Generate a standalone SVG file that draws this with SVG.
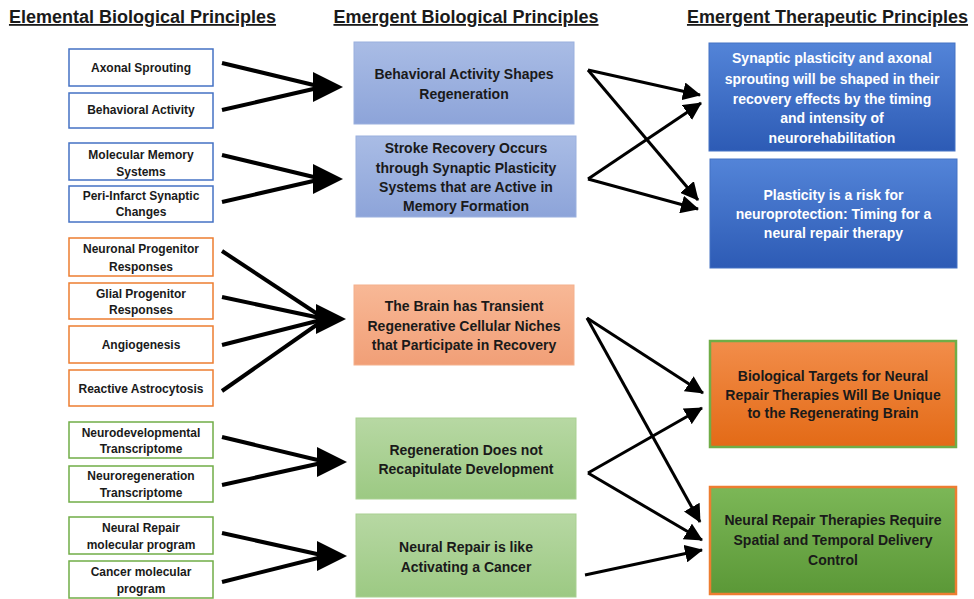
<svg xmlns="http://www.w3.org/2000/svg" width="974" height="599" viewBox="0 0 974 599">
<defs>
<style>
text{font-family:"Liberation Sans",Arial,sans-serif;font-weight:bold;fill:#1a1a1a;text-anchor:middle}
.hdr{font-size:18px;text-decoration:underline}
.sm{font-size:12px}
.md{font-size:14px}
.wt{fill:#ffffff}
.lb{fill:#ffffff;stroke:#4472C4;stroke-width:1.5}
.lo{fill:#ffffff;stroke:#ED7D31;stroke-width:1.5}
.lg{fill:#ffffff;stroke:#70AD47;stroke-width:1.5}
.big{stroke:#000;stroke-width:4;fill:none}
.thin{stroke:#000;stroke-width:3;fill:none;marker-end:url(#ah)}
</style>
<linearGradient id="gMB" x1="0" y1="0" x2="0" y2="1"><stop offset="0" stop-color="#A9BCE5"/><stop offset="1" stop-color="#8DA4D9"/></linearGradient>
<linearGradient id="gMO" x1="0" y1="0" x2="0" y2="1"><stop offset="0" stop-color="#F8B896"/><stop offset="1" stop-color="#F19F77"/></linearGradient>
<linearGradient id="gMG" x1="0" y1="0" x2="0" y2="1"><stop offset="0" stop-color="#B7D8A3"/><stop offset="1" stop-color="#9CC983"/></linearGradient>
<linearGradient id="gRB" x1="0" y1="0" x2="0" y2="1"><stop offset="0" stop-color="#5384D8"/><stop offset="1" stop-color="#2D5BB5"/></linearGradient>
<linearGradient id="gRO" x1="0" y1="0" x2="0" y2="1"><stop offset="0" stop-color="#F28D4A"/><stop offset="1" stop-color="#E36A16"/></linearGradient>
<linearGradient id="gRG" x1="0" y1="0" x2="0" y2="1"><stop offset="0" stop-color="#7CB757"/><stop offset="1" stop-color="#5B9837"/></linearGradient>
<marker id="ah" markerUnits="userSpaceOnUse" markerWidth="18" markerHeight="18" refX="17" refY="9" orient="auto"><path d="M0,0 L18,9 L0,18 z" fill="#000"/></marker>
</defs>
<rect width="974" height="599" fill="#ffffff"/>

<g id="headers">
<text class="hdr" x="142.5" y="23">Elemental Biological Principles</text>
<text class="hdr" x="466" y="23">Emergent Biological Principles</text>
<text class="hdr" x="827.5" y="23">Emergent Therapeutic Principles</text>
</g>

<g id="connectors">
<line class="big" x1="222" y1="63" x2="322" y2="87"/>
<line class="big" x1="222" y1="110" x2="322" y2="87"/>
<polygon points="313,72 343,87 313,102" fill="#000"/>
<line class="big" x1="222" y1="155" x2="322" y2="179"/>
<line class="big" x1="222" y1="202" x2="322" y2="179"/>
<polygon points="313,164 343,179 313,194" fill="#000"/>
<line class="big" x1="222" y1="251" x2="325" y2="319"/>
<line class="big" x1="222" y1="297" x2="325" y2="319"/>
<line class="big" x1="222" y1="345" x2="325" y2="319"/>
<line class="big" x1="222" y1="391" x2="325" y2="319"/>
<polygon points="316,304 346,319 316,334" fill="#000"/>
<line class="big" x1="222" y1="437" x2="326" y2="462"/>
<line class="big" x1="222" y1="485" x2="326" y2="462"/>
<polygon points="317,447 347,462 317,477" fill="#000"/>
<line class="big" x1="222" y1="533" x2="326" y2="556"/>
<line class="big" x1="222" y1="582" x2="326" y2="556"/>
<polygon points="317,541 347,556 317,571" fill="#000"/>

<line class="thin" x1="588" y1="70" x2="700" y2="95"/>
<line class="thin" x1="588" y1="70" x2="698" y2="200"/>
<line class="thin" x1="588" y1="179" x2="701" y2="103"/>
<line class="thin" x1="588" y1="179" x2="698" y2="209"/>
<line class="thin" x1="587" y1="318" x2="703" y2="393"/>
<line class="thin" x1="587" y1="318" x2="700" y2="522"/>
<line class="thin" x1="588" y1="473" x2="702" y2="408"/>
<line class="thin" x1="588" y1="473" x2="702" y2="540"/>
<line class="thin" x1="585" y1="575" x2="702" y2="550"/>
</g>

<g id="n-axonal"><rect class="lb" x="69" y="49" width="144" height="37"/><text class="sm" x="141" y="72">Axonal Sprouting</text></g>
<g id="n-behavioral"><rect class="lb" x="69" y="93" width="144" height="35"/><text class="sm" x="141" y="114">Behavioral Activity</text></g>
<g id="n-molecular"><rect class="lb" x="69" y="143" width="144" height="37"/><text class="sm" x="141" y="159">Molecular Memory</text><text class="sm" x="141" y="176">Systems</text></g>
<g id="n-peri"><rect class="lb" x="69" y="186" width="144" height="36"/><text class="sm" x="141" y="200">Peri-Infarct Synaptic</text><text class="sm" x="141" y="216">Changes</text></g>

<g id="n-neuronal"><rect class="lo" x="69" y="238" width="144" height="38"/><text class="sm" x="141" y="253">Neuronal Progenitor</text><text class="sm" x="141" y="271">Responses</text></g>
<g id="n-glial"><rect class="lo" x="69" y="283" width="144" height="36"/><text class="sm" x="141" y="298">Glial Progenitor</text><text class="sm" x="141" y="314">Responses</text></g>
<g id="n-angio"><rect class="lo" x="69" y="326" width="144" height="37"/><text class="sm" x="141" y="349">Angiogenesis</text></g>
<g id="n-reactive"><rect class="lo" x="69" y="370" width="144" height="36"/><text class="sm" x="141" y="393">Reactive Astrocytosis</text></g>

<g id="n-neurodev"><rect class="lg" x="69" y="422" width="144" height="36"/><text class="sm" x="141" y="437">Neurodevelopmental</text><text class="sm" x="141" y="453">Transcriptome</text></g>
<g id="n-neuroregen"><rect class="lg" x="69" y="466" width="144" height="36"/><text class="sm" x="141" y="480">Neuroregeneration</text><text class="sm" x="141" y="497">Transcriptome</text></g>
<g id="n-neuralrepair"><rect class="lg" x="69" y="517" width="144" height="37"/><text class="sm" x="141" y="532">Neural Repair</text><text class="sm" x="141" y="549">molecular program</text></g>
<g id="n-cancer"><rect class="lg" x="69" y="561" width="144" height="37"/><text class="sm" x="141" y="576">Cancer molecular</text><text class="sm" x="141" y="593">program</text></g>

<g id="m-behavior"><rect x="354" y="42" width="220" height="82" fill="url(#gMB)" stroke="#9AB0DE" stroke-width="1"/><text class="md" x="464" y="79">Behavioral Activity Shapes</text><text class="md" x="464" y="99">Regeneration</text></g>
<g id="m-stroke"><rect x="356" y="136" width="220" height="81" fill="url(#gMB)" stroke="#9AB0DE" stroke-width="1"/><text class="md" x="466" y="153">Stroke Recovery Occurs</text><text class="md" x="466" y="173">through Synaptic Plasticity</text><text class="md" x="466" y="192">Systems that are Active in</text><text class="md" x="466" y="211">Memory Formation</text></g>
<g id="m-brain"><rect x="354" y="285" width="220" height="80" fill="url(#gMO)" stroke="#F4B08C" stroke-width="1"/><text class="md" x="464" y="311">The Brain has Transient</text><text class="md" x="464" y="331">Regenerative Cellular Niches</text><text class="md" x="464" y="350">that Participate in Recovery</text></g>
<g id="m-regen"><rect x="356" y="418" width="220" height="81" fill="url(#gMG)" stroke="#A9D091" stroke-width="1"/><text class="md" x="466" y="455">Regeneration Does not</text><text class="md" x="466" y="474">Recapitulate Development</text></g>
<g id="m-cancer"><rect x="356" y="514" width="220" height="83" fill="url(#gMG)" stroke="#A9D091" stroke-width="1"/><text class="md" x="466" y="552">Neural Repair is like</text><text class="md" x="466" y="572">Activating a Cancer</text></g>

<g id="r-synaptic"><rect x="709" y="43" width="246" height="108" fill="url(#gRB)" stroke="#4472C4" stroke-width="1"/><text class="md wt" x="832" y="63">Synaptic plasticity and axonal</text><text class="md wt" x="832" y="84">sprouting will be shaped in their</text><text class="md wt" x="832" y="104">recovery effects by the timing</text><text class="md wt" x="832" y="123">and intensity of</text><text class="md wt" x="832" y="143">neurorehabilitation</text></g>
<g id="r-plasticity"><rect x="710" y="159" width="247" height="109" fill="url(#gRB)" stroke="#4472C4" stroke-width="1"/><text class="md wt" x="833.5" y="200">Plasticity is a risk for</text><text class="md wt" x="833.5" y="219">neuroprotection: Timing for a</text><text class="md wt" x="833.5" y="238">neural repair therapy</text></g>
<g id="r-targets"><rect x="710" y="341" width="246" height="106" fill="url(#gRO)" stroke="#70AD47" stroke-width="2.5"/><text class="md" x="833" y="381">Biological Targets for Neural</text><text class="md" x="833" y="400">Repair Therapies Will Be Unique</text><text class="md" x="833" y="418">to the Regenerating Brain</text></g>
<g id="r-delivery"><rect x="710" y="487" width="246" height="107" fill="url(#gRG)" stroke="#ED7D31" stroke-width="2.5"/><text class="md" x="833" y="525">Neural Repair Therapies Require</text><text class="md" x="833" y="545">Spatial and Temporal Delivery</text><text class="md" x="833" y="565">Control</text></g>
</svg>
